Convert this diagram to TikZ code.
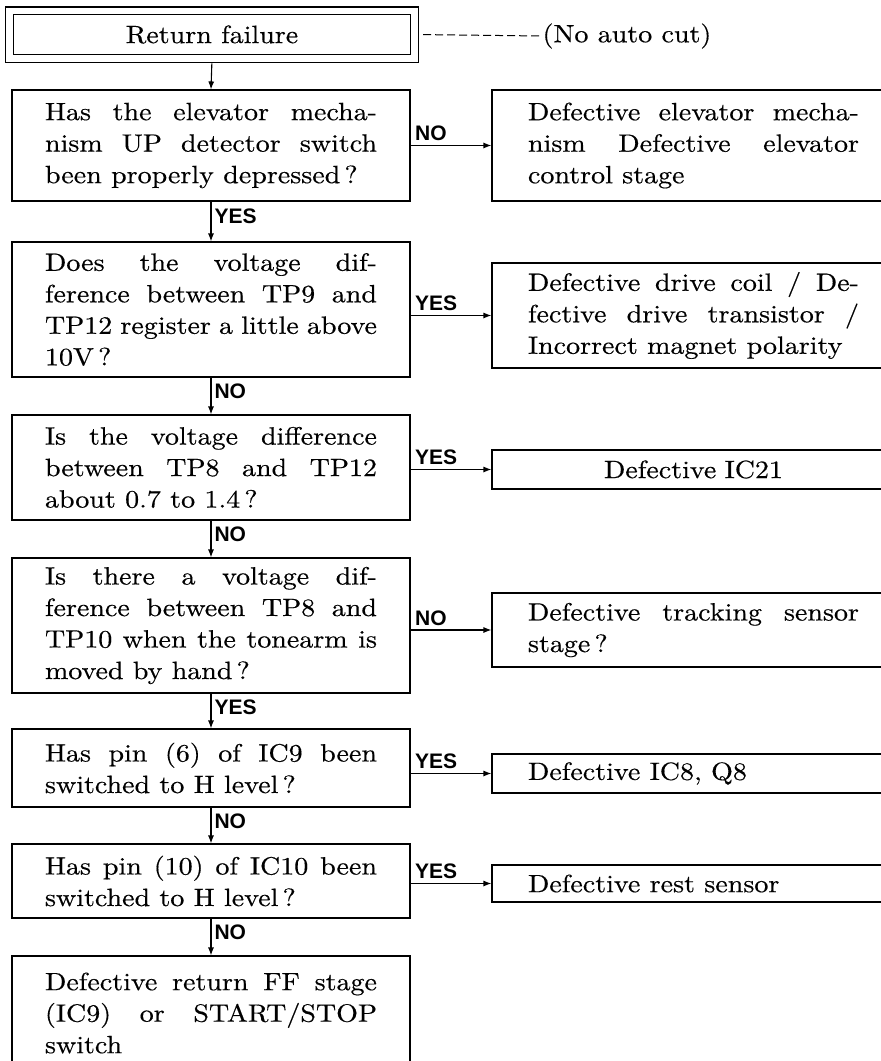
\documentclass[tikz,border=0pt]{standalone}
\usepackage{fontspec}
\usetikzlibrary{arrows.meta}
\newfontfamily\bodyfont{lmroman10-regular.otf}[FakeStretch=1.12,FakeBold=0.4]
\newfontfamily\tagfont{Liberation Sans}
\tolerance=10000 \hbadness=10000 \hyphenpenalty=10000

\begin{document}
\begin{tikzpicture}[x=1pt,y=-1pt,>={Latex[length=8pt,width=6pt]},
 font=\bodyfont\fontsize{25}{31.5}\selectfont, line width=1.1pt,
 query/.style={draw,minimum width=398pt,text width=332pt,align=justify},
 fault/.style={draw,minimum width=403pt,text width=331pt,align=justify},
 tagv/.style={font=\tagfont\bfseries\fontsize{21}{21}\selectfont,
  anchor=west,pos=0.38,inner sep=3pt},
 tagh/.style={font=\tagfont\bfseries\fontsize{21}{21}\selectfont,
  anchor=south west,pos=0,inner sep=4pt}]
\useasboundingbox (0,0) rectangle (881,1061);
\clip (0,0) rectangle (881,1061);

% start box and remark
\node[draw,double,double distance=6.5pt,minimum width=405pt,
 minimum height=47.5pt] (rf) at (212,34.5) {Return failure};
\node[anchor=west,inner sep=0pt] (nocut) at (542,36) {(No auto cut)};
\draw[dash pattern=on 8pt off 4pt,line width=1pt,shorten <=8pt]
 (rf.east) -- (nocut.west);

% questions, left column
\node[query,minimum height=111pt] (q1) at (211,145.5)
 {Has the elevator mecha-\linebreak nism UP detector switch\linebreak
 been properly depressed\,?};
\node[query,minimum height=135pt] (q2) at (211,309.5)
 {Does the voltage dif-\linebreak ference between TP9 and\linebreak
 TP12 register a little above\linebreak 10V\,?};
\node[query,minimum height=105pt] (q3) at (211,467.5)
 {Is the voltage difference\linebreak between TP8 and TP12\linebreak
 about 0.7 to 1.4\,?};
\node[query,minimum height=135pt] (q4) at (211,625.5)
 {Is there a voltage dif-\linebreak ference between TP8 and\linebreak
 TP10 when the tonearm is\linebreak moved by hand\,?};
\node[query,minimum height=78pt] (q5) at (211,768)
 {Has pin (6) of IC9 been\linebreak switched to H level\,?};
\node[query,minimum height=74pt] (q6) at (211,881)
 {Has pin (10) of IC10 been\linebreak switched to H level\,?};
\node[query,minimum height=114pt] (ff) at (211,1013)
 {Defective return FF stage\linebreak (IC9) or START/STOP\linebreak switch};

% faults, right column
\node[fault,minimum height=111pt] (d1) at (693.5,145.5)
 {Defective elevator mecha-\linebreak nism Defective elevator\linebreak
 control stage};
\node[fault,minimum height=105pt] (d2) at (693.5,315.5)
 {\parfillskip=0pt Defective drive coil / De-\linebreak fective drive
 transistor /\linebreak Incorrect magnet polarity};
\node[fault,align=center,minimum height=39pt] (d3) at (693.5,469.5)
 {Defective IC21};
\node[fault,minimum height=74pt] (d4) at (693.5,630)
 {Defective tracking sensor\linebreak stage\,?};
\node[fault,minimum height=39pt] (d5) at (693.5,773.5)
 {Defective IC8, Q8};
\node[fault,minimum height=37pt] (d6) at (693.5,883.5)
 {Defective rest sensor};

% main chain
\draw[->,shorten <=4.5pt] (rf.south) -- (q1.north);
\draw[->] (q1.south) -- node[tagv] {YES} (q2.north);
\draw[->] (q2.south) -- node[tagv] {NO} (q3.north);
\draw[->] (q3.south) -- node[tagv] {NO} (q4.north);
\draw[->] (q4.south) -- node[tagv] {YES} (q5.north);
\draw[->] (q5.south) -- node[tagv] {NO} (q6.north);
\draw[->] (q6.south) -- node[tagv] {NO} (ff.north);

% branches
\draw[->] (d1.west -| q1.east) -- node[tagh] {NO} (d1.west);
\draw[->] (d2.west -| q2.east) -- node[tagh] {YES} (d2.west);
\draw[->] (d3.west -| q3.east) -- node[tagh] {YES} (d3.west);
\draw[->] (d4.west -| q4.east) -- node[tagh] {NO} (d4.west);
\draw[->] (d5.west -| q5.east) -- node[tagh] {YES} (d5.west);
\draw[->] (d6.west -| q6.east) -- node[tagh] {YES} (d6.west);
\end{tikzpicture}
\end{document}
